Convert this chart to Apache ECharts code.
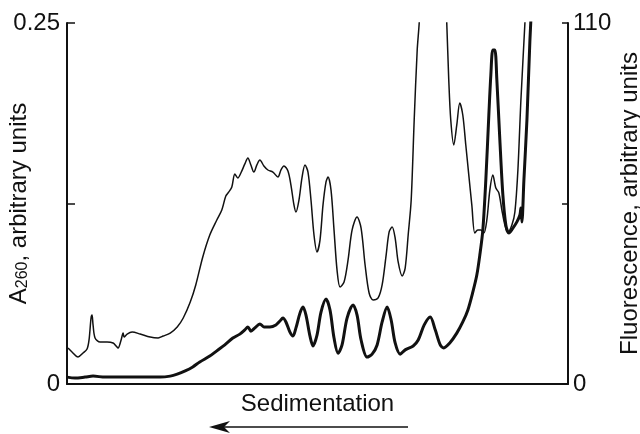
<!DOCTYPE html>
<html>
<head>
<meta charset="utf-8">
<script src="https://cdn.jsdelivr.net/npm/echarts@6/dist/echarts.min.js"></script>
<style>
  html, body { margin: 0; padding: 0; background: #fff; }
  #chart { width: 640px; height: 434px; }
</style>
</head>
<body>
<div id="chart"></div>
<script>
// position along the gradient, 0..100 (left = top of gradient)
var a260Pos = [0.2, 1.0, 2.2, 3.2, 4.0, 4.4, 4.8, 5.0, 5.2, 5.6, 6.6, 8.0, 9.2, 9.8, 10.2, 10.8, 11.2, 11.4, 12.0, 13.0,
  14.6, 16.6, 18.2, 19.2, 20.6, 22.0, 23.2, 24.6, 25.7, 27.1, 28.5, 29.9, 30.9, 31.7, 32.3, 32.9, 33.5, 34.1, 34.7, 35.5,
  36.1, 36.7, 37.3, 37.9, 38.5, 39.3, 40.1, 41.1, 42.1, 42.7, 43.3, 44.1, 44.7, 45.3, 45.7, 46.3, 46.9, 47.5, 48.1, 48.7,
  49.3, 49.9, 50.5, 51.1, 51.7, 52.1, 52.7, 53.3, 53.9, 54.5, 55.3, 56.1, 56.9, 57.9, 58.7, 59.5, 60.3, 61.1, 62.1, 62.9,
  63.7, 64.3, 64.9, 65.5, 66.1, 66.9, 67.5, 68.1, 68.7, 69.3, 69.9, 70.3, 70.7, 75.4, 75.8, 76.2, 76.6, 77.2, 77.8, 78.4,
  79.0, 79.6, 80.2, 80.8, 81.4, 82.0, 82.6, 83.2, 83.8, 84.4, 85.0, 85.6, 86.2, 86.8, 87.4, 88.0, 88.8, 89.4, 90.0, 90.6,
  91.4, 91.8];
var a260 = [0.0249, 0.0222, 0.0187, 0.0215, 0.0242, 0.0305, 0.0457, 0.0478, 0.0409, 0.0319, 0.0291, 0.0291, 0.0284, 0.0263, 0.0249, 0.0305, 0.0353, 0.0325, 0.0346, 0.0360,
  0.0346, 0.0325, 0.0319, 0.0332, 0.0353, 0.0395, 0.0457, 0.0568, 0.0686, 0.0880, 0.1032, 0.1136, 0.1205, 0.1302, 0.1330, 0.1364, 0.1454, 0.1427, 0.1461, 0.1524,
  0.1565, 0.1517, 0.1468, 0.1517, 0.1551, 0.1510, 0.1482, 0.1468, 0.1433, 0.1482, 0.1510, 0.1475, 0.1378, 0.1240, 0.1191, 0.1274, 0.1427, 0.1517, 0.1468, 0.1274,
  0.1032, 0.0914, 0.0997, 0.1240, 0.1399, 0.1433, 0.1343, 0.1066, 0.0789, 0.0672, 0.0706, 0.0859, 0.1066, 0.1156, 0.1080, 0.0824, 0.0630, 0.0582, 0.0596, 0.0686,
  0.0893, 0.1053, 0.1087, 0.1011, 0.0845, 0.0748, 0.0803, 0.1032, 0.1274, 0.1828, 0.2313, 0.2500, 0.2800, 0.2800, 0.2500, 0.2105, 0.1828, 0.1655, 0.1794, 0.1946,
  0.1863, 0.1655, 0.1447, 0.1240, 0.1046, 0.1066, 0.1066, 0.1046, 0.1136, 0.1343, 0.1447, 0.1357, 0.1323, 0.1205, 0.1101, 0.1053, 0.1101, 0.1191, 0.1482, 0.1967,
  0.2500, 0.2800];

var fluorPos = [0, 1.6, 3.6, 5.2, 7.6, 9.6, 12.0, 14.6, 18.6, 20.6, 22.0, 23.6, 25.1, 26.5, 28.5, 29.9, 31.5, 33.1, 34.5, 35.5,
  36.1, 36.7, 37.5, 38.5, 39.3, 40.5, 41.7, 42.5, 43.1, 43.7, 44.5, 45.1, 45.7, 46.5, 47.1, 47.7, 48.5, 49.1, 49.9, 50.7,
  51.7, 52.5, 53.3, 54.1, 54.9, 55.9, 57.1, 57.9, 58.7, 59.9, 60.9, 61.9, 62.9, 63.9, 64.7, 65.5, 66.5, 67.5, 69.1, 70.1,
  71.3, 72.5, 73.5, 74.5, 75.2, 76.4, 77.8, 79.0, 80.0, 81.0, 81.8, 82.4, 83.0, 83.6, 84.2, 84.6, 85.0, 85.4, 85.8, 86.4,
  87.0, 87.6, 88.2, 89.0, 89.8, 90.4, 90.6, 90.8, 91.2, 91.8, 92.4, 92.8];
var fluor = [2.1, 1.8, 2.1, 2.4, 2.1, 2.1, 2.1, 2.1, 2.1, 2.4, 3.0, 4.0, 5.2, 6.7, 8.5, 10.1, 11.9, 14.0, 15.2, 16.5,
  17.4, 16.1, 17.1, 18.3, 17.4, 17.4, 18.0, 19.2, 20.1, 18.9, 15.8, 14.6, 17.1, 21.6, 23.5, 21.0, 14.6, 11.6, 14.9, 21.9,
  25.9, 22.5, 14.0, 9.4, 11.9, 20.1, 24.1, 21.0, 13.4, 8.2, 9.1, 11.9, 18.9, 23.5, 19.5, 12.5, 9.1, 10.4, 11.6, 13.4,
  18.0, 20.4, 16.5, 11.9, 11.0, 12.5, 15.5, 18.9, 22.5, 28.0, 33.2, 39.3, 46.9, 62.2, 82.0, 94.2, 101.8, 101.8, 92.6, 74.3,
  57.6, 48.4, 46.0, 47.5, 49.4, 51.5, 53.6, 49.4, 62.2, 80.4, 104.8, 117];

var leftTicks = ['0', '', '0.25'];
var rightTicks = ['0', '', '110'];

function pairs(xs, ys) {
  return xs.map(function (x, i) { return [x, ys[i]]; });
}

var chart = echarts.init(document.getElementById('chart'));
var font = 'Liberation Sans, Arial, sans-serif';

var option = {
  animation: false,
  grid: { left: 67, right: 72, top: 23, bottom: 50, outerBoundsMode: 'none' },
  xAxis: {
    type: 'value', min: 0, max: 100,
    name: 'Sedimentation', nameLocation: 'middle', nameGap: 8, nameMoveOverlap: false,
    nameTextStyle: { color: '#111', fontSize: 24, fontFamily: font },
    axisLine: { show: true, lineStyle: { color: '#111', width: 2 } },
    axisTick: { show: false }, axisLabel: { show: false }, splitLine: { show: false }
  },
  yAxis: [{
    type: 'value', min: 0, max: 0.25, interval: 0.125, position: 'left',
    name: '{a|A}{s|260}{a|, arbitrary units}', nameLocation: 'middle', nameRotate: 90, nameGap: 36,
    nameMoveOverlap: false,
    nameTextStyle: {
      color: '#111', fontFamily: font,
      rich: {
        a: { fontSize: 24, color: '#111', fontFamily: font },
        s: { fontSize: 16, color: '#111', fontFamily: font, verticalAlign: 'bottom', padding: [8, 0, 0, 0] }
      }
    },
    axisLine: { show: true, lineStyle: { color: '#111', width: 2 } },
    axisTick: { show: true, inside: true, length: 8, lineStyle: { color: '#111', width: 1.5 } },
    axisLabel: {
      color: '#111', fontSize: 24, fontFamily: font, margin: 7,
      formatter: function (v, i) { return leftTicks[i]; }
    },
    splitLine: { show: false }
  }, {
    type: 'value', min: 0, max: 110, interval: 55, position: 'right',
    name: 'Fluorescence, arbitrary units', nameLocation: 'middle', nameRotate: 90, nameGap: 50,
    nameMoveOverlap: false,
    nameTextStyle: { color: '#111', fontSize: 24, fontFamily: font },
    axisLine: { show: true, lineStyle: { color: '#111', width: 2 } },
    axisTick: { show: true, inside: true, length: 6, lineStyle: { color: '#111', width: 1.5 } },
    axisLabel: {
      color: '#111', fontSize: 24, fontFamily: font, margin: 5,
      formatter: function (v, i) { return rightTicks[i]; }
    },
    splitLine: { show: false }
  }],
  series: [{
    name: 'A260', type: 'line', yAxisIndex: 0, showSymbol: false, smooth: 0.3,
    lineStyle: { color: '#111', width: 1.5 },
    data: pairs(a260Pos, a260)
  }, {
    name: 'Fluorescence', type: 'line', yAxisIndex: 1, showSymbol: false, smooth: 0.3,
    lineStyle: { color: '#111', width: 3 },
    data: pairs(fluorPos, fluor)
  }],
  graphic: [{
    type: 'line', shape: { x1: 222, y1: 427, x2: 408, y2: 427 },
    style: { stroke: '#111', lineWidth: 1.5 }
  }, {
    type: 'polygon', shape: { points: [[209, 427], [230, 421], [224, 427], [230, 433]] },
    style: { fill: '#111' }
  }]
};
chart.setOption(option);
</script>
</body>
</html>
